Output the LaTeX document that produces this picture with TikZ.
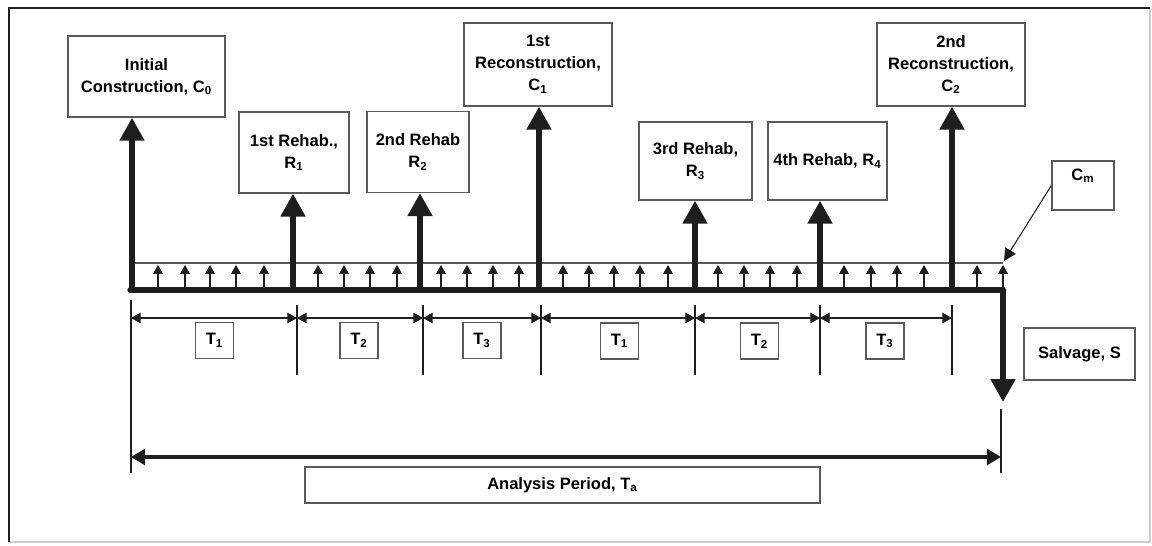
\documentclass[tikz,border=0pt]{standalone}
\usepackage{fontspec}
\setmainfont{Liberation Sans}
\usepackage{xcolor}
\usetikzlibrary{arrows.meta,calc}
\definecolor{ink}{HTML}{1E1E1E}
\definecolor{edge}{HTML}{5A5A5A}
\definecolor{faint}{HTML}{CFCFCF}
\tikzset{
  box/.style={draw=edge, line width=0.8pt, fill=white, align=center, inner sep=2pt,
    font=\bfseries\fontsize{9.4}{12.5}\selectfont},
  tbox/.style={box, minimum width=0.76cm, minimum height=0.72cm},
  axis/.style={draw=ink, line width=3pt, line cap=round},
  cost/.style={draw=ink, line width=3.1pt, -{Triangle[width=13.5pt,length=13pt]}},
  maint/.style={draw=ink, line width=0.6pt, -{Triangle[width=5.5pt,length=5pt]}},
  span/.style={draw=ink, line width=0.6pt, {Triangle[width=6pt,length=5.5pt]}-{Triangle[width=6pt,length=5.5pt]}},
  period/.style={draw=ink, line width=1.8pt, {Triangle[width=9pt,length=8pt]}-{Triangle[width=9pt,length=8pt]}},
  tick/.style={draw=ink, line width=0.6pt},
  guide/.style={draw=edge, line width=0.6pt},
}

\begin{document}
\begin{tikzpicture}[x=0.02cm, y=-0.02cm]
  \useasboundingbox (0,0) rectangle (1152,545);
  % frame
  \draw[faint, line width=0.8pt] (1150,8) -- (1150,542) -- (9,542);
  \draw[ink, line width=1.1pt] (9,542) -- (9,8) -- (1150,8);

  % time line
  \coordinate (e0) at (132,290);
  \coordinate (e1) at (293,290);
  \coordinate (e2) at (420,290);
  \coordinate (e3) at (539,290);
  \coordinate (e4) at (695,290);
  \coordinate (e5) at (820,290);
  \coordinate (e6) at (952,290);
  \coordinate (end) at (1003,290);
  \draw[guide] (130,263) -- (1003,263);
  \foreach \x in {158,185,210,236,264,318,344,370,397,441,467,493,519,563,589,614,640,668,718,744,770,797,844,871,897,924,977,1003}
    \draw[maint] (\x,288) -- (\x,265);
  \draw[axis] (130,290) -- (end);
  \fill[ink] (end) circle (3.2);

  % cost boxes
  \node[box, minimum width=3.14cm, minimum height=1.62cm] (c0) at (146.5,76.5) {Initial\\Construction, C\textsubscript{0}};
  \node[box, minimum width=2.2cm, minimum height=1.62cm] (r1) at (294,152.5) {1st Rehab.,\\R\textsubscript{1}};
  \node[box, minimum width=2.04cm, minimum height=1.62cm] (r2) at (418,152) {2nd Rehab\\R\textsubscript{2}};
  \node[box, minimum width=2.96cm, minimum height=1.66cm] (c1) at (538,64.5) {1st\\Reconstruction,\\C\textsubscript{1}};
  \node[box, minimum width=2.26cm, minimum height=1.56cm] (r3) at (695.5,161) {3rd Rehab,\\R\textsubscript{3}};
  \node[box, minimum width=2.38cm, minimum height=1.56cm] (r4) at (827.5,161) {4th Rehab, R\textsubscript{4}};
  \node[box, minimum width=2.96cm, minimum height=1.66cm] (c2) at (951,64.5) {2nd\\Reconstruction,\\C\textsubscript{2}};
  \node[box, minimum width=1.24cm, minimum height=0.98cm] (cm) at (1083,185.5) {C\textsubscript{m}\\\mbox{}};
  \node[box, minimum width=2.22cm, minimum height=1.04cm] (salv) at (1079.5,354) {Salvage, S};

  \draw[cost] (e0) -- (e0 |- c0.south);
  \draw[cost] (e1) -- (e1 |- r1.south);
  \draw[cost] (e2) -- (e2 |- r2.south);
  \draw[cost] (e3) -- (e3 |- c1.south);
  \draw[cost] (e4) -- (e4 |- r3.south);
  \draw[cost] (e5) -- (e5 |- r4.south);
  \draw[cost] (e6) -- (e6 |- c2.south);
  \draw[cost] (end) -- ++(0,112);
  \draw[tick, -{Triangle[width=7pt,length=7pt]}] (cm.west) -- (1004,261);

  % rehab intervals
  \foreach \n/\x in {0/131,1/297,2/423,3/541,4/695,5/820,6/952}
    \coordinate (d\n) at (\x,318);
  \foreach \n in {1,...,6}
    \draw[tick] ($(d\n)+(0,-13)$) -- ($(d\n)+(0,57)$);
  \draw[tick] (131,300) -- (131,473);
  \foreach \a/\b in {0/1,1/2,2/3,3/4,4/5,5/6}
    \draw[span] (d\a) -- (d\b);
  \node[tbox] (t1a) at (214.5,340.5) {T\textsubscript{1}};
  \node[tbox] (t2a) at (359,340.5) {T\textsubscript{2}};
  \node[tbox] (t3a) at (482,340.5) {T\textsubscript{3}};
  \node[tbox] (t1b) at (619.5,341) {T\textsubscript{1}};
  \node[tbox] (t2b) at (759.5,341) {T\textsubscript{2}};
  \node[tbox] (t3b) at (885,341) {T\textsubscript{3}};

  % analysis period
  \coordinate (pa) at (131,457);
  \coordinate (pb) at (1001,457);
  \draw[tick, line width=0.9pt] (1001,409) -- (1001,473);
  \draw[period] (pa) -- (pb);
  \node[box, minimum width=10.3cm, minimum height=0.72cm] (ta) at (562.5,485) {Analysis Period, T\textsubscript{a}};
\end{tikzpicture}
\end{document}
